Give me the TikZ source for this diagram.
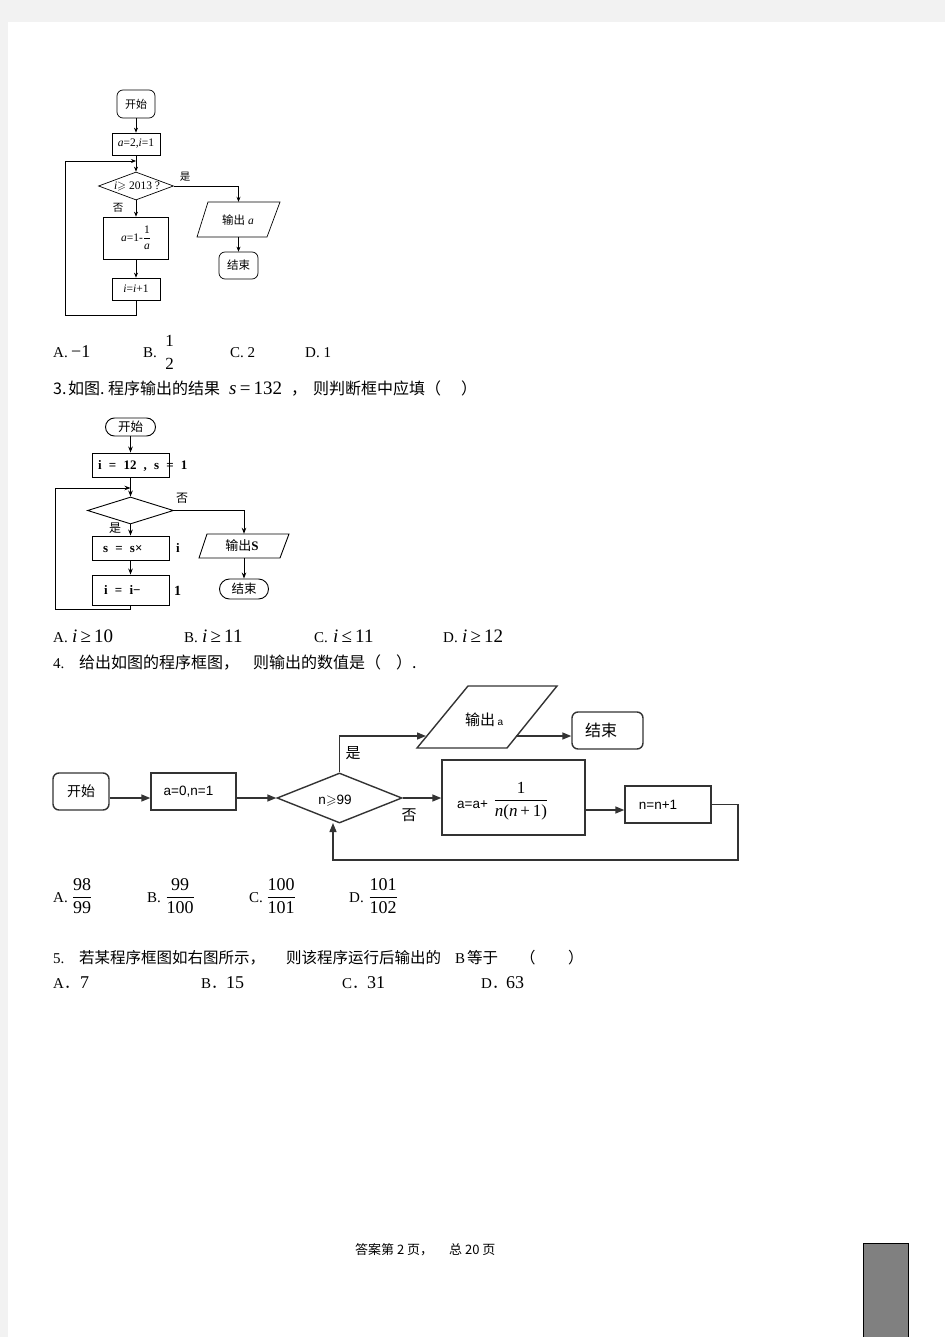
\documentclass[tikz,border=0pt]{standalone}
\usepackage{fontspec}
\usepackage{amssymb}
\setmainfont{Liberation Serif}
\newfontfamily\cjk{Noto Sans CJK SC}
\newfontfamily\sansf{Liberation Sans}
\newfontfamily\wserif[WordSpace=2.2]{Liberation Serif}
\usetikzlibrary{arrows.meta,shapes.geometric}
\newcommand\fsz[1]{\fontsize{#1}{#1}\selectfont}
\definecolor{pagebg}{HTML}{F2F2F2}
\definecolor{tabgray}{HTML}{808080}
\definecolor{lnthree}{HTML}{333333}
\begin{document}
\begin{tikzpicture}[x=1pt,y=-1pt,
  tl/.style={anchor=base west,inner sep=0pt},
  tc/.style={inner sep=0pt},
  fa/.style={draw=black,line width=0.7pt,inner sep=0pt},
  la/.style={draw=black,line width=0.7pt},
  aa/.style={draw=black,line width=0.7pt,-{Stealth[length=5pt,width=4pt]}},
  fb/.style={draw=black,line width=0.9pt,inner sep=0pt},
  lb/.style={draw=black,line width=0.9pt},
  ab/.style={draw=black,line width=0.9pt,-{Stealth[length=6pt,width=4.5pt]}},
  fc/.style={draw=lnthree,line width=1.4pt,inner sep=0pt},
  lc/.style={draw=lnthree,line width=1.4pt},
  ac/.style={draw=lnthree,line width=1.4pt,-{Triangle[length=9pt,width=7pt]}}]
\fill[pagebg] (0,0) rectangle (945,1337);
\fill[white] (8,22) rectangle (945,1337);
\useasboundingbox (0,0) rectangle (945,1337);

% ---------- flowchart 1 ----------
\node[fa,rounded corners=6pt,minimum width=38pt,minimum height=28pt,font=\cjk\fsz{11}] (s1) at (136,104) {开始};
\node[fa,minimum width=48pt,minimum height=22pt,font=\fsz{11.5}] (a1) at (136,144) {\textit{a}=2,\textit{i}=1};
\node[fa,diamond,minimum width=75pt,minimum height=28pt] (d1) at (136,186) {};
\node[tc,font=\fsz{11.5}] (d1t) at (137,186) {\textit{i}$\geqslant$ 2013 ?};
\node[tc,font=\cjk\fsz{10.5}] (y1) at (185,177) {是};
\node[tc,font=\cjk\fsz{10.5}] (n1) at (118,208) {否};
\node[tc,minimum width=60pt,minimum height=35pt] (p1) at (238.5,219.5) {};
\draw[la] (p1.center) ++(-30.5,-17.5) -- ++(72,0) -- ++(-13,35) -- ++(-70,0) -- cycle;
\node[tc,font=\fsz{11.5}] (p1t) at (238,220) {{\cjk 输出} \textit{a}};
\node[fa,rounded corners=6pt,minimum width=39pt,minimum height=27pt,font=\cjk\fsz{11.5}] (e1) at (238.5,265.5) {结束};
\node[fa,minimum width=65pt,minimum height=42pt,font=\fsz{11.5}] (b1) at (136,238) {\textit{a}=1-$\displaystyle\frac{\mbox{1}}{\mbox{\itshape a}}$};
\node[fa,minimum width=48pt,minimum height=22pt,font=\fsz{11.5}] (b2) at (136,289) {\textit{i}=\textit{i}+1};
\coordinate (j1) at (136,161);
\draw[aa] (s1.south) -- (a1.north);
\draw[la] (a1.south) -- (j1);
\draw[aa] (j1) -- (d1.north);
\draw[aa] (d1.east) -| (p1.north);
\draw[aa] (p1.south) -- (e1.north);
\draw[aa] (d1.south) -- (b1.north);
\draw[aa] (b1.south) -- (b2.north);
\draw[aa] (b2.south) -- ++(0,15) -| (65,161) -- (j1);

% answers line 1
\node[tl,font=\fsz{15}] (l1a) at (53,357) {A.};
\node[tl,font=\fsz{18}] (l1am) at (71,357) {−1};
\node[tl,font=\fsz{15}] (l1b) at (143,357) {B.};
\node[tc,font=\fsz{17}] (l1bn) at (169.5,341) {1};
\node[tc,font=\fsz{17}] (l1bd) at (169.5,364) {2};
\node[tl,font=\fsz{15}] (l1c) at (230,357) {C. 2};
\node[tl,font=\fsz{15}] (l1d) at (305,357) {D. 1};

% question 3
\node[tl,font=\cjk\fsz{16}] (q3a) at (53,394) {3.};
\node[tl,font=\cjk\fsz{16}] (q3b) at (68,394) {如图.};
\node[tl,font=\cjk\fsz{16}] (q3c) at (108,394) {程序输出的结果};
\node[tl,font=\fsz{19}] (q3m) at (229,394) {\textit{s}\,=\,132};
\node[tl,font=\cjk\fsz{16}] (q3d) at (291,394) {，};
\node[tl,font=\cjk\fsz{16}] (q3e) at (313,394) {则判断框中应填（};
\node[tl,font=\cjk\fsz{16}] (q3f) at (461,394) {）};

% ---------- flowchart 2 ----------
\node[fb,rounded corners=9pt,minimum width=50pt,minimum height=18pt,font=\cjk\fsz{12.5}] (s2) at (130.5,427) {开始};
\node[fb,minimum width=77pt,minimum height=24pt] (a2) at (130.5,465) {};
\node[tl,font=\wserif\bfseries\fsz{13}] (a2t) at (98,469.5) {i = 12 , s = 1};
\node[fb,diamond,minimum width=86pt,minimum height=27pt] (d2) at (130.5,510.5) {};
\node[tc,font=\cjk\fsz{12}] (n2) at (182,498) {否};
\node[tc,font=\cjk\fsz{12}] (y2) at (115,528) {是};
\node[tc,minimum width=70pt,minimum height=24pt] (p2) at (244,546) {};
\draw[lb] (p2.center) ++(-37,-12) -- ++(82,0) -- ++(-9,24) -- ++(-81,0) -- cycle;
\node[tc,font=\fsz{13}] (p2t) at (242,546) {{\cjk 输出}\textbf{S}};
\node[fb,rounded corners=10pt,minimum width=49pt,minimum height=20pt,font=\cjk\fsz{12.5}] (e2) at (244,589) {结束};
\node[fb,minimum width=77pt,minimum height=24pt] (b3) at (130.5,548) {};
\node[tl,font=\wserif\bfseries\fsz{13}] (b3t) at (103,552.5) {s = s×};
\node[tl,font=\wserif\bfseries\fsz{13}] (b3i) at (176,552.5) {i};
\node[fb,minimum width=77pt,minimum height=30pt] (b4) at (130.5,590) {};
\node[tl,font=\wserif\bfseries\fsz{13}] (b4t) at (104,594.5) {i = i−};
\node[tl,font=\wserif\bfseries\fsz{14}] (b4i) at (174,595) {1};
\coordinate (j2) at (130.5,488);
\draw[ab] (s2.south) -- (a2.north);
\draw[lb] (a2.south) -- (j2);
\draw[ab] (j2) -- (d2.north);
\draw[ab] (d2.east) -| (p2.north);
\draw[ab] (p2.south) -- (e2.north);
\draw[ab] (d2.south) -- (b3.north);
\draw[ab] (b3.south) -- (b4.north);
\draw[ab] (b4.south) -- ++(0,4) -| (55,488) -- (j2);

% answers line 3
\node[tl,font=\fsz{15}] (l3a) at (53,642) {A.};
\node[tl,font=\fsz{19}] (l3am) at (72,642) {\textit{i}\,≥\,10};
\node[tl,font=\fsz{15}] (l3b) at (184,642) {B.};
\node[tl,font=\fsz{19}] (l3bm) at (202,642) {\textit{i}\,≥\,11};
\node[tl,font=\fsz{15}] (l3c) at (314,642) {C.};
\node[tl,font=\fsz{19}] (l3cm) at (333,642) {\textit{i}\,≤\,11};
\node[tl,font=\fsz{15}] (l3d) at (443,642) {D.};
\node[tl,font=\fsz{19}] (l3dm) at (462,642) {\textit{i}\,≥\,12};

% question 4
\node[tl,font=\fsz{15}] (q4a) at (53,668) {4.};
\node[tl,font=\cjk\fsz{16}] (q4b) at (79,668) {给出如图的程序框图，};
\node[tl,font=\cjk\fsz{16}] (q4c) at (253,668) {则输出的数值是（};
\node[tl,font=\cjk\fsz{16}] (q4d) at (396,668) {）.};

% ---------- flowchart 3 ----------
\node[fc,rounded corners=6pt,minimum width=56pt,minimum height=37pt,font=\cjk\fsz{14}] (s3) at (81,791.5) {开始};
\node[fc,minimum width=85pt,minimum height=37pt] (a3) at (193.5,791.5) {};
\node[tc,font=\sansf\fsz{13.5}] (a3t) at (188.5,792) {a=0,n=1};
\node[fc,diamond,minimum width=125pt,minimum height=50pt] (d3) at (339.5,798) {};
\node[tc,font=\sansf\fsz{13.5}] (d3t) at (335,801) {n$\geqslant$99};
\node[tc,font=\cjk\fsz{15}] (y3) at (353,753) {是};
\node[tc,font=\cjk\fsz{15}] (n3) at (409,815) {否};
\node[tc,minimum width=100pt,minimum height=62pt] (p3) at (487,717) {};
\draw[lc] (p3.center) ++(-19,-31) -- ++(89,0) -- ++(-50,62) -- ++(-90,0) -- cycle;
\node[tl,font=\cjk\fsz{15}] (p3t) at (465,725) {输出\,{\sansf\fsz{10}a}};
\coordinate (p3l) at (426,736);
\coordinate (p3r) at (516,736);
\node[fc,rounded corners=6pt,minimum width=71pt,minimum height=37pt] (e3) at (607.5,730.5) {};
\node[tc,font=\cjk\fsz{16}] (e3t) at (601,730) {结束};
\node[fc,minimum width=143pt,minimum height=75pt] (b5) at (513.5,797.5) {};
\node[tl,font=\sansf\fsz{13.5}] (b5t) at (457,808) {a=a+};
\node[tc,font=\fsz{17}] (b5f) at (521,801) {$\displaystyle\frac{\mbox{1}}{\mbox{\itshape n\upshape(\itshape n\upshape\,+\,1)}}$};
\node[fc,minimum width=86pt,minimum height=37pt] (b6) at (668,804.5) {};
\node[tc,font=\sansf\fsz{13.5}] (b6t) at (658,805) {n=n+1};
\coordinate (m56) at (585,810);
\coordinate (d3in) at (333,823);
\draw[ac] (s3.east |- d3.west) -- (a3.west |- d3.west);
\draw[ac] (a3.east |- d3.west) -- (d3.west);
\draw[ac] (d3.north) |- (p3l);
\draw[ac] (p3r) -- (e3.west |- p3r);
\draw[ac] (d3.east) -- (b5.west |- d3.east);
\draw[ac] (m56) -- (b6.west |- m56);
\draw[ac] (b6.east) -- (738,804.5) -- (738,860) -| (d3in);

% answers line 4
\node[tl,font=\fsz{15}] (l4a) at (53,902) {A.};
\node[tc,font=\fsz{18}] (l4am) at (82,896) {$\displaystyle\frac{\mbox{98}}{\mbox{99}}$};
\node[tl,font=\fsz{15}] (l4b) at (147,902) {B.};
\node[tc,font=\fsz{18}] (l4bm) at (180,896) {$\displaystyle\frac{\mbox{99}}{\mbox{100}}$};
\node[tl,font=\fsz{15}] (l4c) at (249,902) {C.};
\node[tc,font=\fsz{18}] (l4cm) at (281,896) {$\displaystyle\frac{\mbox{100}}{\mbox{101}}$};
\node[tl,font=\fsz{15}] (l4d) at (349,902) {D.};
\node[tc,font=\fsz{18}] (l4dm) at (383,896) {$\displaystyle\frac{\mbox{101}}{\mbox{102}}$};

% question 5
\node[tl,font=\fsz{15}] (q5a) at (53,963) {5.};
\node[tl,font=\cjk\fsz{15.5}] (q5b) at (79,963) {若某程序框图如右图所示，};
\node[tl,font=\cjk\fsz{15.5}] (q5c) at (286,963) {则该程序运行后输出的};
\node[tl,font=\fsz{15}] (q5d) at (455,963) {B};
\node[tl,font=\cjk\fsz{15.5}] (q5e) at (467,963) {等于};
\node[tl,font=\cjk\fsz{15.5}] (q5f) at (520,963) {（};
\node[tl,font=\cjk\fsz{15.5}] (q5g) at (568,963) {）};
\node[tl,font=\fsz{15}] (l5a) at (53,988) {A{\cjk ．}};
\node[tl,font=\fsz{18}] (l5am) at (80,988) {7};
\node[tl,font=\fsz{15}] (l5b) at (201,988) {B{\cjk ．}};
\node[tl,font=\fsz{18}] (l5bm) at (226,988) {15};
\node[tl,font=\fsz{15}] (l5c) at (342,988) {C{\cjk ．}};
\node[tl,font=\fsz{18}] (l5cm) at (367,988) {31};
\node[tl,font=\fsz{15}] (l5d) at (481,988) {D{\cjk ．}};
\node[tl,font=\fsz{18}] (l5dm) at (506,988) {63};

% footer
\node[tl,font=\cjk\fsz{13}] (ft1) at (355,1254) {答案第 2 页，};
\node[tl,font=\cjk\fsz{13}] (ft2) at (449,1254) {总 20 页};
\node[draw=black,line width=1pt,fill=tabgray,anchor=north west,minimum width=45pt,minimum height=100pt,inner sep=0pt] (tab) at (863,1243) {};
\end{tikzpicture}
\end{document}
